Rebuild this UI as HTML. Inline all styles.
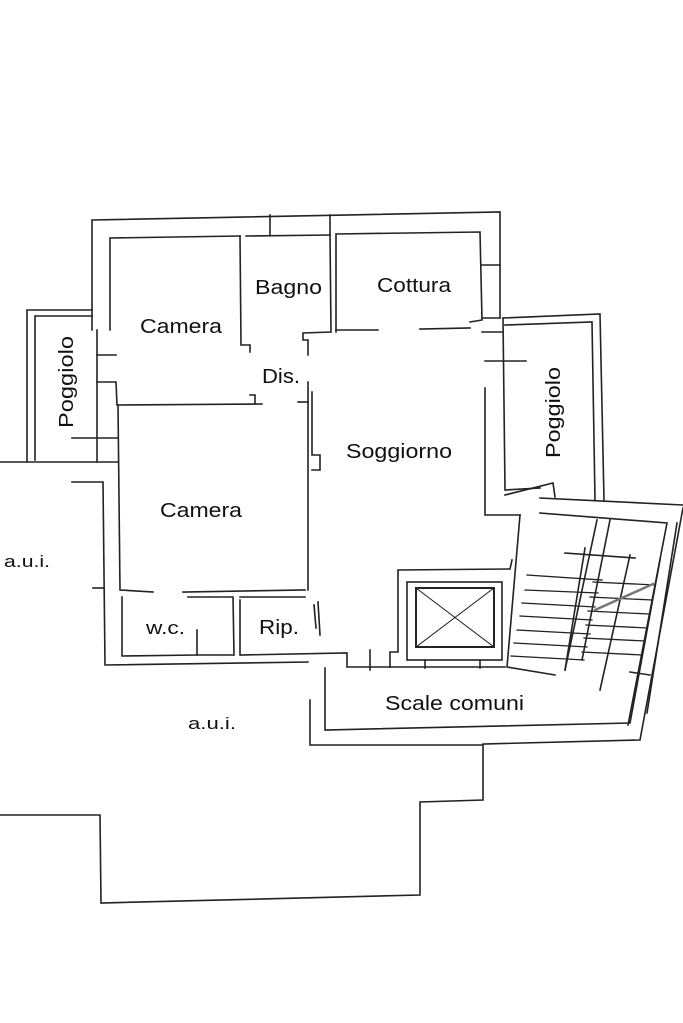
<!DOCTYPE html>
<html><head><meta charset="utf-8"><style>
html,body{margin:0;padding:0;background:#fff;}
svg{display:block}
text{font-family:"Liberation Sans",Arial,sans-serif;fill:#111;}
</style></head><body>
<svg width="683" height="1023" viewBox="0 0 683 1023" xmlns="http://www.w3.org/2000/svg">
<g fill="none" stroke="#222" stroke-width="1.6" stroke-linecap="square">
<polyline points="92,330 92,220 500,212 500,318"/>
<polyline points="110,330 110,238 240,236"/>
<polyline points="270,215 270,235"/>
<polyline points="246,236 330,235"/>
<polyline points="330,215 330,235"/>
<polyline points="240,236 241,345 250,345 250,352"/>
<polyline points="330,235 331,332 303,333 303,340 308,340 308,355"/>
<polyline points="336,332 336,234 480,232 482,320 470,322"/>
<polyline points="336,330 378,330"/>
<polyline points="420,329 470,328"/>
<polyline points="482,265 500,265"/>
<polyline points="482,318 500,318"/>
<polyline points="482,332 503,332"/>
<polyline points="503,318 505,490 540,488"/>
<polyline points="503,318 600,314 604,500"/>
<polyline points="505,325 592,322 595,500"/>
<polyline points="485,361 526,361"/>
<polyline points="485,388 485,515 520,515"/>
<polyline points="505,495 553,483 555,497"/>
<polyline points="540,498 683,505"/>
<polyline points="92,310 27,310 27,462"/>
<polyline points="92,316 35,316 35,460"/>
<polyline points="97,330 97,462"/>
<polyline points="97,355 116,355"/>
<polyline points="72,438 117,438"/>
<polyline points="0,462 118,462"/>
<polyline points="97,382 116,382 117,405 262,404"/>
<polyline points="250,395 255,395 255,404"/>
<polyline points="308,382 308,590"/>
<polyline points="312,392 312,455 320,455 320,470 312,470"/>
<polyline points="298,402 308,402"/>
<polyline points="118,405 120,590 153,592"/>
<polyline points="183,592 305,590"/>
<polyline points="72,482 103,482 105,665 308,662"/>
<polyline points="93,588 103,588"/>
<polyline points="122,597 122,656 197,655"/>
<polyline points="197,630 197,655 233,655"/>
<polyline points="188,597 233,597 234,655"/>
<polyline points="240,597 305,597"/>
<polyline points="240,600 240,655 347,653 347,667 390,667"/>
<polyline points="318,602 320,635"/>
<polyline points="314,605 316,628"/>
<polyline points="370,650 370,670"/>
<polyline points="390,667 390,652 398,652 398,570 510,569 512,560"/>
<rect x="407" y="582" width="95" height="78"/>
<rect x="416" y="588" width="78" height="59" stroke-width="2"/>
<line x1="416" y1="588" x2="494" y2="647" stroke-width="1"/>
<line x1="494" y1="588" x2="416" y2="647" stroke-width="1"/>
<line x1="425" y1="660" x2="425" y2="668"/>
<line x1="480" y1="660" x2="480" y2="668"/>
<polyline points="390,667 505,667"/>
<polyline points="325,668 325,730 630,723 660,560"/>
<polyline points="310,700 310,745 483,745 483,800 420,802 420,895 101,903 100,815 0,815"/>
<polyline points="483,744 640,740 683,508"/>
<polyline points="647,713 677,523"/>
<polyline points="630,672 650,675"/>
<polyline points="520,515 507,667 555,675"/>
<polyline points="540,513 667,523 628,725"/>
<polyline points="597,520 565,670"/>
<polyline points="610,520 582,660"/>
<polyline points="565,553 635,558"/>
<polyline points="585,548 565,670"/>
<polyline points="630,555 600,690"/>
<g stroke-width="1.3">
<line x1="527" y1="575" x2="602" y2="580"/>
<line x1="525" y1="590" x2="598" y2="593"/>
<line x1="522" y1="603" x2="595" y2="607"/>
<line x1="520" y1="616" x2="592" y2="620"/>
<line x1="517" y1="630" x2="590" y2="634"/>
<line x1="514" y1="643" x2="587" y2="647"/>
<line x1="511" y1="656" x2="584" y2="660"/>
<line x1="593" y1="582" x2="655" y2="585"/>
<line x1="590" y1="597" x2="652" y2="600"/>
<line x1="588" y1="611" x2="649" y2="614"/>
<line x1="586" y1="625" x2="647" y2="628"/>
<line x1="584" y1="638" x2="645" y2="641"/>
<line x1="582" y1="652" x2="642" y2="655"/>
<line x1="595" y1="610" x2="653" y2="584" stroke="#777" stroke-width="2.5"/>
</g>
</g>
<g font-size="20" lengthAdjust="spacingAndGlyphs">
<text x="140" y="333" textLength="82" lengthAdjust="spacingAndGlyphs">Camera</text>
<text x="255" y="294" textLength="67" lengthAdjust="spacingAndGlyphs">Bagno</text>
<text x="377" y="292" textLength="74" lengthAdjust="spacingAndGlyphs">Cottura</text>
<text x="262" y="383" textLength="38" lengthAdjust="spacingAndGlyphs">Dis.</text>
<text x="346" y="458" textLength="106" lengthAdjust="spacingAndGlyphs">Soggiorno</text>
<text x="160" y="517" textLength="82" lengthAdjust="spacingAndGlyphs">Camera</text>
<text x="146" y="634" font-size="18" textLength="39" lengthAdjust="spacingAndGlyphs">w.c.</text>
<text x="259" y="634" textLength="40" lengthAdjust="spacingAndGlyphs">Rip.</text>
<text x="4" y="567" font-size="17" textLength="46" lengthAdjust="spacingAndGlyphs">a.u.i.</text>
<text x="188" y="729" font-size="17" textLength="48" lengthAdjust="spacingAndGlyphs">a.u.i.</text>
<text x="385" y="710" textLength="139" lengthAdjust="spacingAndGlyphs">Scale comuni</text>
<text transform="translate(73,428) rotate(-90)" textLength="92" lengthAdjust="spacingAndGlyphs">Poggiolo</text>
<text transform="translate(560,458) rotate(-90)" textLength="91" lengthAdjust="spacingAndGlyphs">Poggiolo</text>
</g>
</svg>
</body></html>
